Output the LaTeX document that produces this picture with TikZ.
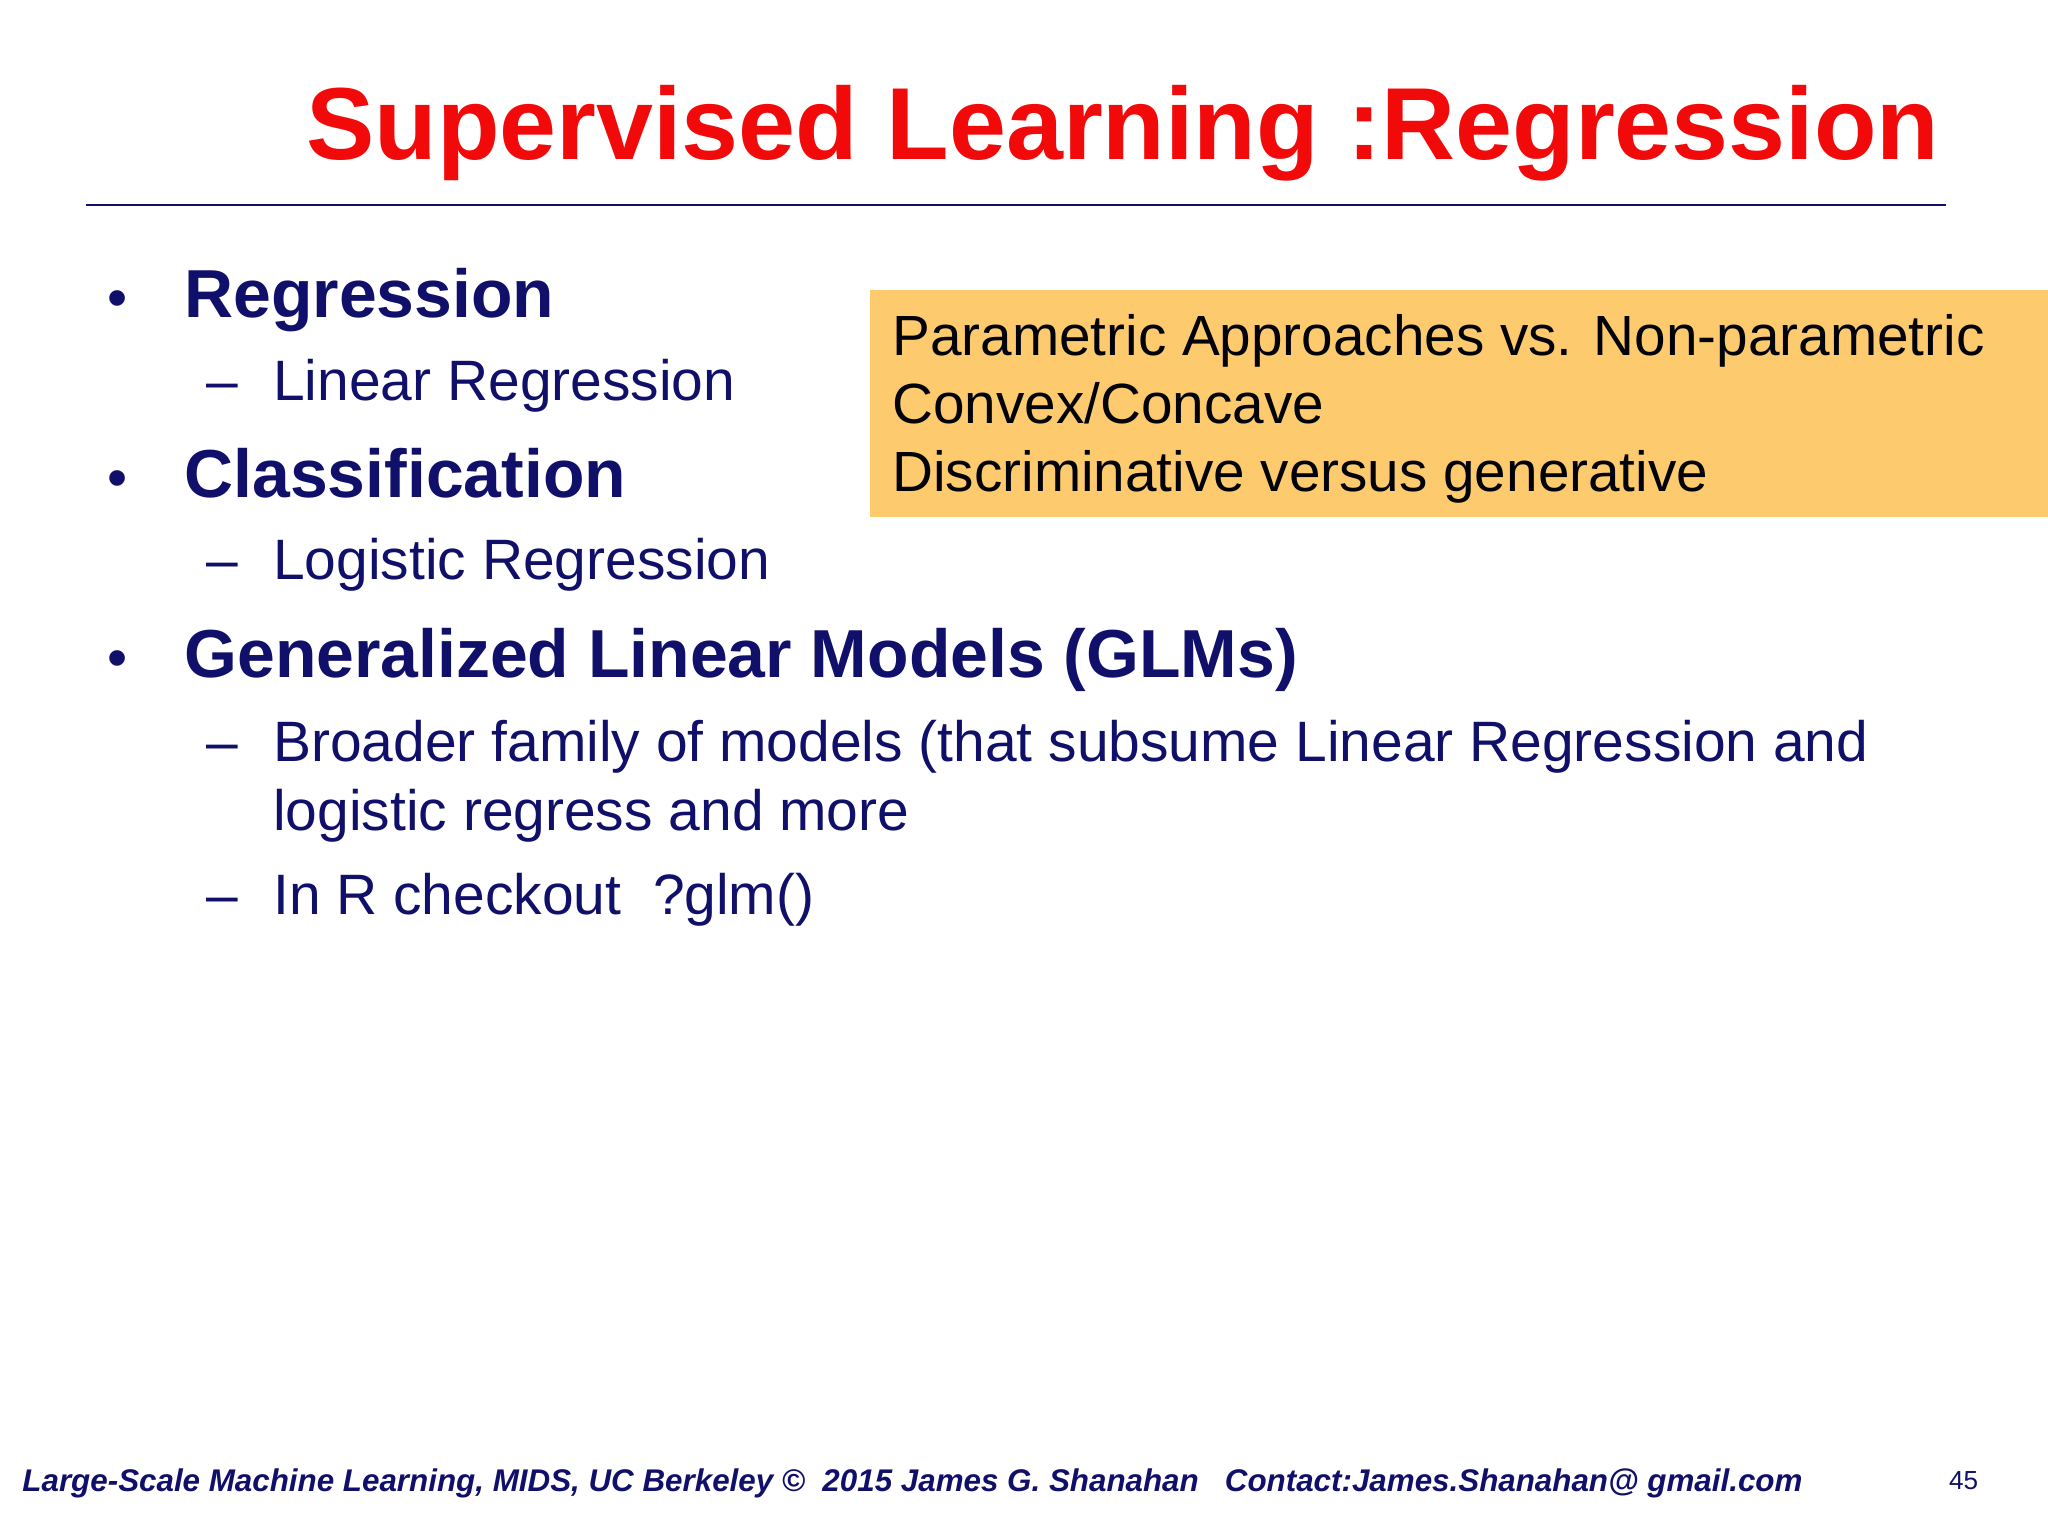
\documentclass[tikz,border=0pt]{standalone}
\usepackage{fontspec}
\setmainfont{Liberation Sans}
\definecolor{navy}{HTML}{10106A}
\definecolor{titred}{HTML}{F20A0A}
\definecolor{boxor}{HTML}{FDCB6E}
\tikzset{
 txt/.style={anchor=base west,inner sep=0pt,text=navy},
 head/.style={txt,font=\fontsize{52}{60}\selectfont\bfseries},
 sub/.style={txt,font=\fontsize{43.6}{52}\selectfont},
 boxt/.style={txt,text=black!90!navy,font=\fontsize{43.4}{52}\selectfont},
 dot/.style={txt,font=\fontsize{44}{52}\selectfont},
}
\begin{document}
\begin{tikzpicture}[x=1pt,y=-1pt]
\useasboundingbox (0,0) rectangle (1568,1176);
\fill[white] (0,0) rectangle (1568,1176);
\node[anchor=base east,inner sep=0pt,text=titred,font=\fontsize{78.4}{90}\selectfont\bfseries] (title) at (1485,122) {Supervised Learning :Regression};
\coordinate (l1) at (66,157); \coordinate (l2) at (1490,157);
\draw[navy,line width=2pt] (l1) -- (l2);
\node[fill=boxor,anchor=north west,minimum width=902,minimum height=174,inner sep=0pt] (box) at (666,222) {};
\node[boxt] (b1) at (683,272) {Parametric Approaches vs. Non-parametric};
\node[boxt] (b2) at (683,324) {Convex/Concave};
\node[boxt] (b3) at (683,376) {Discriminative versus generative};
\node[dot] (d1) at (82,243) {•};
\node[head] (h1) at (141,243) {Regression};
\node[sub] (e1) at (158,307) {–};
\node[sub] (s1) at (209,307) {Linear Regression};
\node[dot] (d2) at (82,381) {•};
\node[head] (h2) at (141,381) {Classification};
\node[sub] (e2) at (158,444) {–};
\node[sub] (s2) at (209,444) {Logistic Regression};
\node[dot] (d3) at (82,519) {•};
\node[head] (h3) at (141,519) {Generalized Linear Models (GLMs)};
\node[sub] (e3) at (158,583) {–};
\node[sub] (s3) at (209,583) {Broader family of models (that subsume Linear Regression and};
\node[sub] (s3b) at (209,636) {logistic regress and more};
\node[sub] (e4) at (158,700) {–};
\node[sub] (s4) at (209,700) {In R checkout\ \ ?glm()};
\node[txt,font=\fontsize{24}{28}\selectfont\bfseries\itshape] (foot) at (17,1142) {Large-Scale Machine Learning, MIDS, UC Berkeley ©\ \ 2015 James G. Shanahan\ \ \ Contact:James.Shanahan@ gmail.com};
\node[txt,font=\fontsize{20}{24}\selectfont] (pg) at (1492,1140) {45};
\end{tikzpicture}
\end{document}
